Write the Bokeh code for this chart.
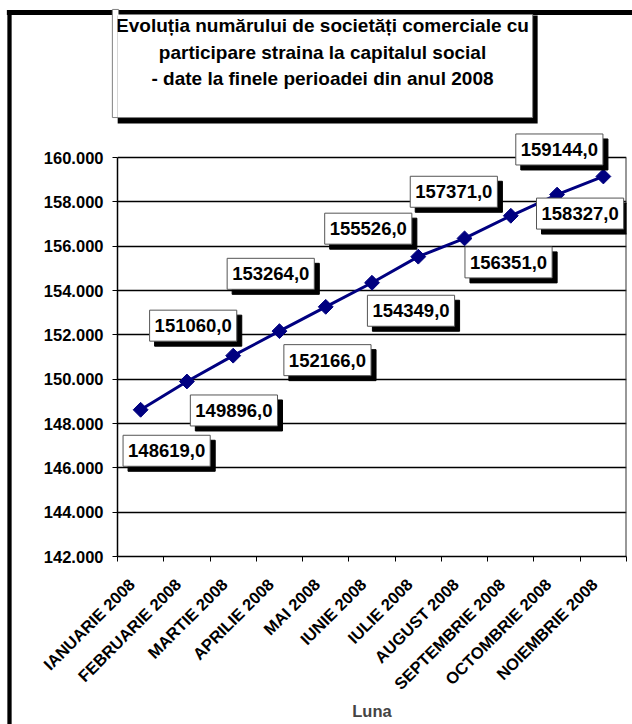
import numpy as np
from math import pi
from bokeh.plotting import figure
from bokeh.models import (Label, FixedTicker, CustomJSTickFormatter, Range1d)
from bokeh.embed import file_html
from bokeh.resources import INLINE

# ---------------- data ----------------
months = ["IANUARIE 2008", "FEBRUARIE 2008", "MARTIE 2008", "APRILIE 2008", "MAI 2008",
          "IUNIE 2008", "IULIE 2008", "AUGUST 2008", "SEPTEMBRIE 2008", "OCTOMBRIE 2008",
          "NOIEMBRIE 2008"]
companies = [148619, 149896, 151060, 152166, 153264, 154349,
             155526, 156351, 157371, 158327, 159144]
y_ticks = [142000, 144000, 146000, 148000, 150000, 152000,
           154000, 156000, 158000, 160000]
title_lines = ["Evoluția numărului de societăți comerciale cu",
               "participare straina la capitalul social",
               "- date la finele perioadei din anul 2008"]
x_axis_title = "Luna"

# label placement (screen px, right / down from each point)
label_dx = [26, 47, -40, 48, -55, 39, -50, 44, -57, 23, -44]
label_dy = [41, 29, -30, 29, -33, 28, -28, 24, -24, 19, -27]

FONT = "Liberation Sans"
NAVY = "#000080"
W, H = 632, 724
PLOT_TOP, PLOT_BOTTOM = 157, 556      # pixel rows of the value axis ends
FRAME_TOP = 14                        # frame extends up to hold the title box
TICK_LABEL_SHIFT = 0.19               # rotated month labels sit a bit left of centre

x = np.arange(len(months)) + 0.5
labels = [f"{v:.1f}".replace(".", ",") for v in companies]

y0, y1 = y_ticks[0], y_ticks[-1]
y_end = y1 + (PLOT_TOP - FRAME_TOP) * (y1 - y0) / (PLOT_BOTTOM - PLOT_TOP)

p = figure(width=W, height=H, x_range=Range1d(0, len(months)),
           y_range=Range1d(y0, y_end),
           output_backend="svg", toolbar_location=None,
           min_border_left=117, min_border_right=6, min_border_top=FRAME_TOP,
           min_border_bottom=H - PLOT_BOTTOM)
p.background_fill_color = "white"
p.border_fill_color = "white"
p.outline_line_color = None

p.xgrid.visible = False
p.ygrid.grid_line_color = "black"
p.ygrid.grid_line_width = 1.5
p.ygrid.ticker = FixedTicker(ticks=y_ticks)

# axes
p.xaxis.ticker = FixedTicker(ticks=list(x - TICK_LABEL_SHIFT),
                             minor_ticks=list(range(len(months) + 1)))
p.xaxis.formatter = CustomJSTickFormatter(args=dict(cats=months),
                                          code="return cats[Math.floor(tick)] || '';")
p.xaxis.major_label_orientation = pi / 4
p.xaxis.major_tick_out = 0
p.xaxis.major_tick_in = 0
p.xaxis.minor_tick_out = 5
p.xaxis.minor_tick_in = 0
p.xaxis.minor_tick_line_color = "black"
p.xaxis.major_label_standoff = 20
p.xaxis.axis_label = x_axis_title
p.xaxis.axis_label_text_font = FONT
p.xaxis.axis_label_text_font_style = "bold"
p.xaxis.axis_label_text_font_size = "16.5px"
p.xaxis.axis_label_standoff = 0

p.yaxis.ticker = FixedTicker(ticks=y_ticks)
p.yaxis.bounds = (y0, y1)
p.yaxis.formatter = CustomJSTickFormatter(
    code="return Math.round(tick).toString().replace(/\\B(?=(\\d{3})+(?!\\d))/g, '.');")
p.yaxis.major_tick_out = 5
p.yaxis.major_tick_in = 0
p.yaxis.minor_tick_line_color = None
p.yaxis.major_label_standoff = 9

for ax in (p.xaxis[0], p.yaxis[0]):
    ax.axis_line_color = "black"
    ax.axis_line_width = 1.5
    ax.major_tick_line_color = "black"
    ax.major_label_text_font = FONT
    ax.major_label_text_font_style = "bold"
    ax.major_label_text_font_size = "16.5px"
    ax.major_label_text_color = "black"

# right edge of the plot area
p.segment(x0=[len(months)], y0=[y0], x1=[len(months)], y1=[y1],
          line_color="#333333", line_width=2)

# series
p.line(x, companies, line_color=NAVY, line_width=3)
p.scatter(x, companies, marker="square", angle=pi / 4, size=10.5,
          fill_color=NAVY, line_color=NAVY)

# data labels with shadow
common = dict(text_align="center", text_baseline="middle", text_font=FONT,
              text_font_style="bold", text_font_size="18.5px", text_color="black",
              padding=dict(left=5, right=5, top=9, bottom=9))
for xi, yi, t, dx, dy in zip(x, companies, labels, label_dx, label_dy):
    p.add_layout(Label(x=xi, y=yi, text=t, x_offset=dx + 5, y_offset=-dy - 5,
                       background_fill_color="black", border_line_color="black", **common))
for xi, yi, t, dx, dy in zip(x, companies, labels, label_dx, label_dy):
    p.add_layout(Label(x=xi, y=yi, text=t, x_offset=dx, y_offset=-dy,
                       background_fill_color="white", border_line_color="#555555",
                       border_line_width=1, **common))


def block(left, top, w, h, color, border=None, where=None):
    """an empty padded label used as a filled rectangle (canvas pixels)"""
    lab = Label(x=left + w // 2, y=top + h // 2, x_units="canvas", y_units="canvas",
                text=" ", text_font_size="1px", text_align="center",
                text_baseline="middle",
                padding=dict(left=w // 2, right=w - w // 2, top=h // 2, bottom=h - h // 2),
                background_fill_color=color, border_line_color=border,
                border_line_width=1)
    if where:
        p.add_layout(lab, where)
    else:
        p.add_layout(lab)


# title box: shadow, box (left sliver sits in the left panel), text
block(117, 16, 420, 107, "black")
block(112, 10, 6, 107, "white", "#808080", "left")
block(112, 10, 420, 107, "white", "#808080")
for i, t in enumerate(title_lines):
    p.add_layout(Label(x=322, y=25 + i * 26.5, x_units="canvas", y_units="canvas", text=t,
                       text_align="center", text_baseline="middle", text_font=FONT,
                       text_font_style="bold", text_font_size="19px", text_color="black"))

# outer frame (left and top edges)
block(7, 10, 4, H - 10, "black", None, "left")
block(7, 10, W - 7, 4, "black", None, "above")

open("out.html", "w").write(file_html(p, INLINE))
